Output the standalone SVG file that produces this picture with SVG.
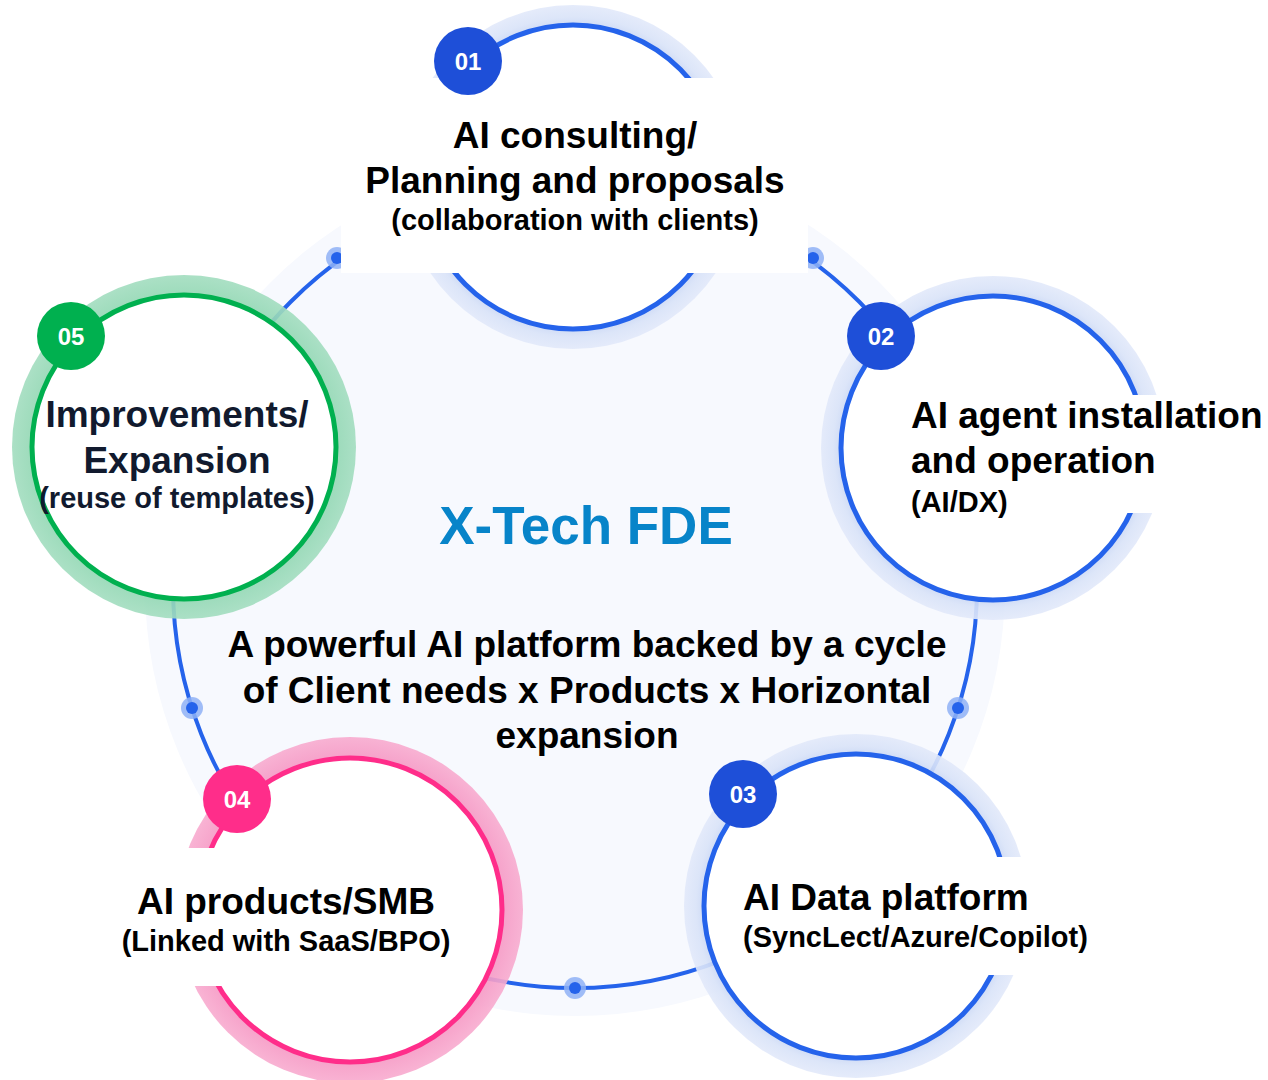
<svg xmlns="http://www.w3.org/2000/svg" width="1268" height="1080" viewBox="0 0 1268 1080">
  <defs>
    <radialGradient id="haloBlue" cx="0.5" cy="0.5" r="0.5">
      <stop offset="0.86" stop-color="#c3d2f3"/>
      <stop offset="0.93" stop-color="#d9e3f8"/>
      <stop offset="1" stop-color="#e2e9fa"/>
    </radialGradient>
    <radialGradient id="haloPink" cx="0.5" cy="0.5" r="0.5">
      <stop offset="0.86" stop-color="#f595c2"/>
      <stop offset="1" stop-color="#f8abcf"/>
    </radialGradient>
    <radialGradient id="haloGreen" cx="0.5" cy="0.5" r="0.5">
      <stop offset="0.86" stop-color="#8fd6b1"/>
      <stop offset="1" stop-color="#a2ddbf"/>
    </radialGradient>
  </defs>
  <style>
    .title { font-family: "Liberation Sans", Arial, sans-serif; font-weight: 700; font-size: 37px; fill: #000000; }
    .sub { font-family: "Liberation Sans", Arial, sans-serif; font-weight: 700; font-size: 29px; fill: #000000; }
    .navy { fill: #111a2e; }
    .mid { text-anchor: middle; }
    .badge-text { font-family: "Liberation Sans", Arial, sans-serif; font-weight: 700; font-size: 24px; fill: #ffffff; text-anchor: middle; }
    .ring-blue { fill: #ffffff; stroke: #2563eb; stroke-width: 5; }
    .ring-pink { fill: #ffffff; stroke: #ff2d8a; stroke-width: 5; }
    .ring-green { fill: #ffffff; stroke: #00b04f; stroke-width: 5; }
    .label-bg { fill: #ffffff; }
    .link { fill: none; stroke: #2563eb; stroke-width: 4; }
    .dot-halo { fill: #8fb2f6; opacity: 0.85; }
    .dot { fill: #2563eb; }
  </style>

  <!-- pale backdrop disc -->
  <circle cx="575" cy="586" r="430" fill="#f7f9fe"/>

  <!-- cycle connector with midpoint dots -->
  <g id="connectors">
    <circle class="link" cx="575" cy="586" r="402"/>
    <circle class="dot-halo" cx="337" cy="258" r="11"/>
    <circle class="dot" cx="337" cy="258" r="6"/>
    <circle class="dot-halo" cx="813" cy="258" r="11"/>
    <circle class="dot" cx="813" cy="258" r="6"/>
    <circle class="dot-halo" cx="958" cy="708" r="11"/>
    <circle class="dot" cx="958" cy="708" r="6"/>
    <circle class="dot-halo" cx="575" cy="988" r="11"/>
    <circle class="dot" cx="575" cy="988" r="6"/>
    <circle class="dot-halo" cx="192" cy="708" r="11"/>
    <circle class="dot" cx="192" cy="708" r="6"/>
  </g>

  <!-- center heading -->
  <g id="center">
    <text x="586" y="544" text-anchor="middle" font-family="Liberation Sans, Arial, sans-serif" font-weight="700" font-size="53" fill="#0784c9">X-Tech FDE</text>
    <text class="title mid" x="587" y="657">A powerful AI platform backed by a cycle</text>
    <text class="title mid" x="587" y="703">of Client needs x Products x Horizontal</text>
    <text class="title mid" x="587" y="748">expansion</text>
  </g>

  <!-- 01 -->
  <g id="node-01">
    <circle cx="573" cy="177" r="172" fill="url(#haloBlue)" opacity="0.9"/>
    <circle class="ring-blue" cx="573" cy="177" r="152"/>
    <rect class="label-bg" x="341" y="78" width="467" height="195"/>
    <text class="title mid" x="575" y="148">AI consulting/</text>
    <text class="title mid" x="575" y="193">Planning and proposals</text>
    <text class="sub mid" x="575" y="230">(collaboration with clients)</text>
    <circle cx="468" cy="61" r="34" fill="#1e4fd8"/>
    <text class="badge-text" x="468" y="70">01</text>
  </g>

  <!-- 02 -->
  <g id="node-02">
    <circle cx="993" cy="448" r="172" fill="url(#haloBlue)" opacity="0.9"/>
    <circle class="ring-blue" cx="993" cy="448" r="152"/>
    <rect class="label-bg" x="905" y="395" width="363" height="118"/>
    <text class="title" x="911" y="428">AI agent installation</text>
    <text class="title" x="911" y="473">and operation</text>
    <text class="sub" x="911" y="512">(AI/DX)</text>
    <circle cx="881" cy="336" r="34" fill="#1e4fd8"/>
    <text class="badge-text" x="881" y="345">02</text>
  </g>

  <!-- 03 -->
  <g id="node-03">
    <circle cx="856" cy="906" r="172" fill="url(#haloBlue)" opacity="0.9"/>
    <circle class="ring-blue" cx="856" cy="906" r="152"/>
    <rect class="label-bg" x="737" y="857" width="400" height="118"/>
    <text class="title" x="743" y="910">AI Data platform</text>
    <text class="sub" x="743" y="947">(SyncLect/Azure/Copilot)</text>
    <circle cx="743" cy="794" r="34" fill="#1e4fd8"/>
    <text class="badge-text" x="743" y="803">03</text>
  </g>

  <!-- 04 -->
  <g id="node-04">
    <circle cx="350" cy="910" r="173" fill="url(#haloPink)" opacity="0.9"/>
    <circle class="ring-pink" cx="350" cy="910" r="152"/>
    <rect class="label-bg" x="110" y="848" width="354" height="138"/>
    <text class="title mid" x="286" y="914">AI products/SMB</text>
    <text class="sub mid" x="286" y="951">(Linked with SaaS/BPO)</text>
    <circle cx="237" cy="799" r="34" fill="#ff2d8a"/>
    <text class="badge-text" x="237" y="808">04</text>
  </g>

  <!-- 05 -->
  <g id="node-05">
    <circle cx="184" cy="447" r="172" fill="url(#haloGreen)" opacity="0.9"/>
    <circle class="ring-green" cx="184" cy="447" r="152"/>
    <text class="title mid navy" x="177" y="427">Improvements/</text>
    <text class="title mid navy" x="177" y="473">Expansion</text>
    <text class="sub mid navy" x="177" y="508">(reuse of templates)</text>
    <circle cx="71" cy="336" r="34" fill="#00b04f"/>
    <text class="badge-text" x="71" y="345">05</text>
  </g>
</svg>
